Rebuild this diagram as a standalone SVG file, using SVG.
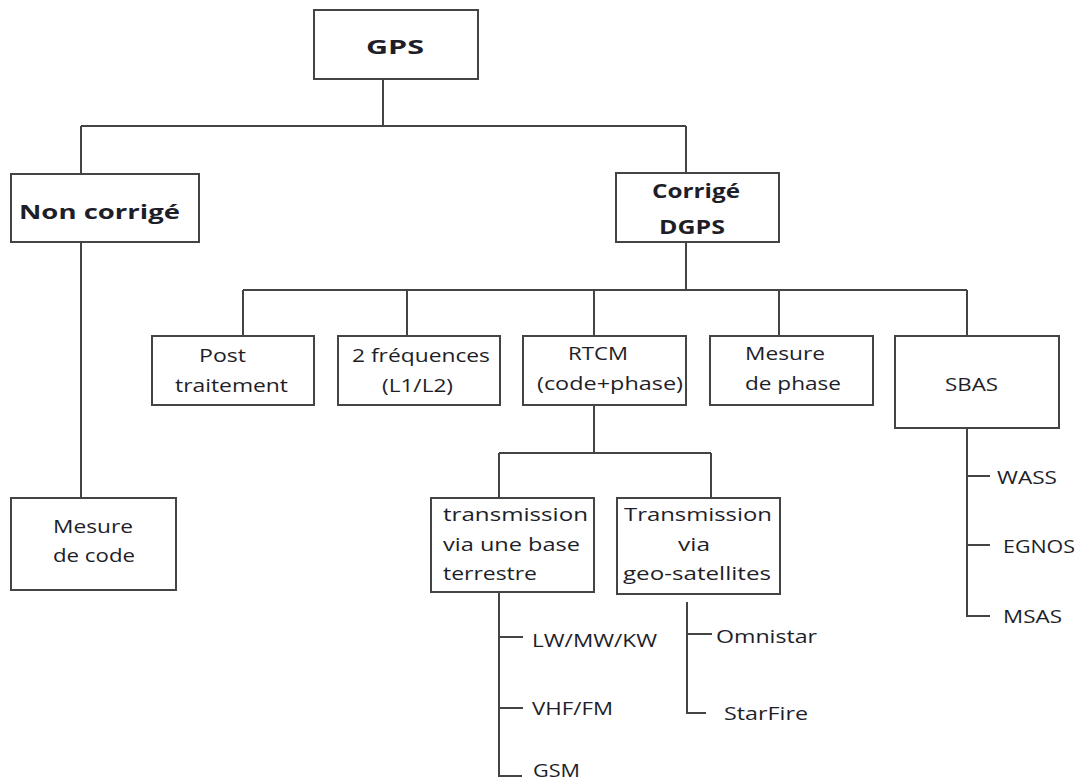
<svg xmlns="http://www.w3.org/2000/svg" width="1083" height="783" viewBox="0 0 1083 783">
<style>
.box{fill:#fff;stroke:#444;stroke-width:2}
.ln{fill:none;stroke:#444;stroke-width:2}
text{font-family:"Open Sans","DejaVu Sans",sans-serif;fill:#1e1e28;font-size:19px}
.b{font-weight:bold}
</style>
<rect width="1083" height="783" fill="#fff"/>
<g id="connectors">
<path class="ln" d="M383 79V126M81 126H686M81 126V174M686 126V173"/>
<path class="ln" d="M81 242V498"/>
<path class="ln" d="M686 242V290M243 290H967M243 290V336M407 290V336M594 290V336M779 290V336M967 290V336"/>
<path class="ln" d="M594 405V453M499 453H711M499 453V498M711 453V498"/>
<path class="ln" d="M499 592V776H522M499 637H523M499 708H523"/>
<path class="ln" d="M687 602V713H706M687 634H712"/>
<path class="ln" d="M967 428V616H990M967 476H990M967 545H990"/>
</g>
<g id="gps"><rect class="box" x="314" y="10" width="164" height="69"/><text class="b" x="366" y="54" textLength="58" lengthAdjust="spacingAndGlyphs" font-size="26">GPS</text></g>
<g id="non-corrige"><rect class="box" x="11" y="174" width="188" height="68"/><text class="b" x="19" y="219" textLength="161" lengthAdjust="spacingAndGlyphs" font-size="28">Non corrigé</text></g>
<g id="corrige"><rect class="box" x="616" y="173" width="163" height="69"/><text class="b" x="652" y="198" textLength="88" lengthAdjust="spacingAndGlyphs" font-size="24">Corrigé</text><text class="b" x="659" y="234" textLength="66" lengthAdjust="spacingAndGlyphs" font-size="24">DGPS</text></g>
<g id="mesure-code"><rect class="box" x="11" y="498" width="165" height="92"/><text x="53" y="533" textLength="80" lengthAdjust="spacingAndGlyphs">Mesure</text><text x="53" y="562" textLength="82" lengthAdjust="spacingAndGlyphs">de code</text></g>
<g id="post"><rect class="box" x="152" y="336" width="162" height="69"/><text x="199" y="362" textLength="47" lengthAdjust="spacingAndGlyphs">Post</text><text x="175" y="392" textLength="113" lengthAdjust="spacingAndGlyphs">traitement</text></g>
<g id="freq"><rect class="box" x="338" y="336" width="162" height="69"/><text x="352" y="362" textLength="138" lengthAdjust="spacingAndGlyphs">2 fréquences</text><text x="382" y="392" textLength="71" lengthAdjust="spacingAndGlyphs">(L1/L2)</text></g>
<g id="rtcm"><rect class="box" x="523" y="336" width="163" height="69"/><text x="568" y="360" textLength="60" lengthAdjust="spacingAndGlyphs">RTCM</text><text x="537" y="390" textLength="146" lengthAdjust="spacingAndGlyphs">(code+phase)</text></g>
<g id="mesure-phase"><rect class="box" x="710" y="336" width="163" height="69"/><text x="745" y="360" textLength="80" lengthAdjust="spacingAndGlyphs">Mesure</text><text x="745" y="390" textLength="96" lengthAdjust="spacingAndGlyphs">de phase</text></g>
<g id="sbas"><rect class="box" x="895" y="336" width="164" height="92"/><text x="945" y="391" textLength="53" lengthAdjust="spacingAndGlyphs">SBAS</text></g>
<g id="terrestre"><rect class="box" x="431" y="498" width="163" height="94"/><text x="443" y="521" textLength="145" lengthAdjust="spacingAndGlyphs">transmission</text><text x="443" y="551" textLength="137" lengthAdjust="spacingAndGlyphs">via une base</text><text x="443" y="580" textLength="94" lengthAdjust="spacingAndGlyphs">terrestre</text></g>
<g id="geo"><rect class="box" x="617" y="498" width="163" height="96"/><text x="624" y="521" textLength="148" lengthAdjust="spacingAndGlyphs">Transmission</text><text x="678" y="551" textLength="32" lengthAdjust="spacingAndGlyphs">via</text><text x="623" y="580" textLength="148" lengthAdjust="spacingAndGlyphs">geo-satellites</text></g>
<g id="lw"><text x="532" y="647" textLength="125" lengthAdjust="spacingAndGlyphs">LW/MW/KW</text></g>
<g id="vhf"><text x="532" y="715" textLength="81" lengthAdjust="spacingAndGlyphs">VHF/FM</text></g>
<g id="gsm"><text x="533" y="777" textLength="47" lengthAdjust="spacingAndGlyphs">GSM</text></g>
<g id="omnistar"><text x="716" y="643" textLength="101" lengthAdjust="spacingAndGlyphs">Omnistar</text></g>
<g id="starfire"><text x="724" y="720" textLength="84" lengthAdjust="spacingAndGlyphs">StarFire</text></g>
<g id="wass"><text x="997" y="484" textLength="60" lengthAdjust="spacingAndGlyphs">WASS</text></g>
<g id="egnos"><text x="1003" y="553" textLength="72" lengthAdjust="spacingAndGlyphs">EGNOS</text></g>
<g id="msas"><text x="1003" y="623" textLength="59" lengthAdjust="spacingAndGlyphs">MSAS</text></g>
</svg>
